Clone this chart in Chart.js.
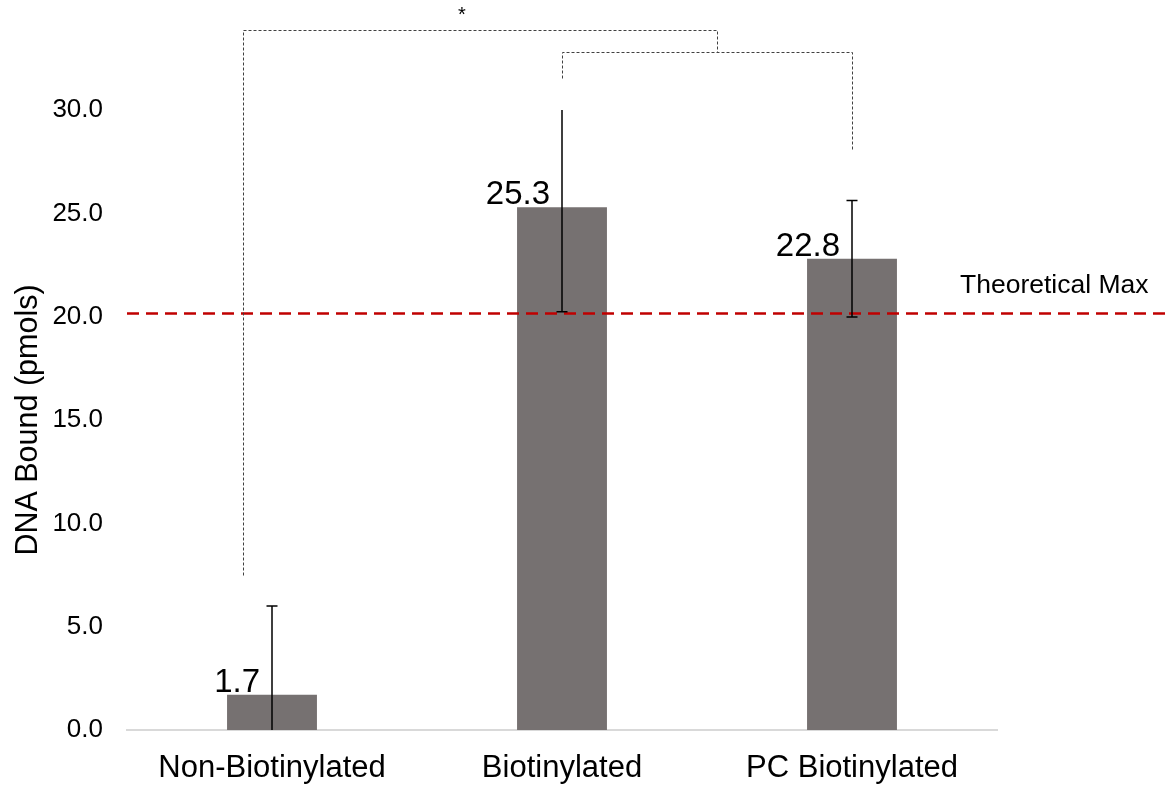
<!DOCTYPE html>
<html>
<head>
<meta charset="utf-8">
<script src="https://cdn.jsdelivr.net/npm/chart.js@4/dist/chart.umd.min.js"></script>
<style>
  html, body { margin: 0; padding: 0; background: #fff; }
  #wrap { width: 1170px; height: 789px; position: relative; }
</style>
</head>
<body>
<div id="wrap"><canvas id="dna-chart"></canvas></div>
<script>
// Data
const categories = ['Non-Biotinylated', 'Biotinylated', 'PC Biotinylated'];
const dnaBound = [1.7, 25.3, 22.8];
const dnaError = [4.3, 5.06, 2.82];
const yMin = 0;
const yMax = 30;
const yStep = 5;
const theoreticalMax = 20.15;
const theoreticalLabel = 'Theoretical Max';

// significance brackets (x in category index, y in pmols)
const bracketOuterX = [-0.1, -0.1, 1.534, 1.534];
const bracketOuterY = [7.5, 33.87, 33.87, 32.8];
const bracketInnerX = [1, 1, 2, 2];
const bracketInnerY = [31.54, 32.8, 32.8, 28.06];
const starX = 0.655;
const starY = 34.3;
const starText = '*';

const FONT = '"Liberation Sans", Arial, sans-serif';

// x pixel for a fractional category index
function catPixel(xs, v) {
    const i0 = Math.floor(v);
    const p0 = xs.getPixelForValue(i0);
    const p1 = xs.getPixelForValue(i0 + 1);
    return p0 + (p1 - p0) * (v - i0);
}

const extrasPlugin = {
    id: 'extras',
    afterDatasetsDraw(chart) {
        const ctx = chart.ctx;
        const xs = chart.scales.x;
        const ys = chart.scales.y;
        const area = chart.chartArea;
        const meta = chart.getDatasetMeta(0);

        // theoretical max line
        ctx.save();
        const ty = ys.getPixelForValue(theoreticalMax);
        ctx.strokeStyle = '#c00000';
        ctx.lineWidth = 2.5;
        ctx.setLineDash([12, 7]);
        ctx.beginPath();
        ctx.moveTo(area.left, ty);
        ctx.lineTo(chart.width, ty);
        ctx.stroke();
        ctx.setLineDash([]);
        ctx.fillStyle = '#000';
        ctx.font = '26.5px ' + FONT;
        ctx.textAlign = 'left';
        ctx.textBaseline = 'alphabetic';
        ctx.fillText(theoreticalLabel, area.right - 37, ty - 21);
        ctx.restore();

        // error bars, clipped to plot area
        ctx.save();
        ctx.beginPath();
        ctx.rect(area.left, area.top, area.right - area.left, area.bottom - area.top);
        ctx.clip();
        ctx.strokeStyle = '#000';
        ctx.lineWidth = 1.5;
        meta.data.forEach((bar, i) => {
            const x = bar.x;
            const yHi = ys.getPixelForValue(dnaBound[i] + dnaError[i]);
            const yLo = ys.getPixelForValue(dnaBound[i] - dnaError[i]);
            ctx.beginPath();
            ctx.moveTo(x, yHi);
            ctx.lineTo(x, yLo);
            ctx.moveTo(x - 5.5, yHi);
            ctx.lineTo(x + 5.5, yHi);
            ctx.moveTo(x - 5.5, yLo);
            ctx.lineTo(x + 5.5, yLo);
            ctx.stroke();
        });
        ctx.restore();

        // value labels
        ctx.save();
        ctx.fillStyle = '#000';
        ctx.font = '33px ' + FONT;
        ctx.textAlign = 'right';
        ctx.textBaseline = 'alphabetic';
        meta.data.forEach((bar, i) => {
            ctx.fillText(dnaBound[i].toFixed(1), bar.x - 12, bar.y - 3);
        });
        ctx.restore();

        // brackets + star
        ctx.save();
        ctx.strokeStyle = '#404040';
        ctx.lineWidth = 1;
        ctx.setLineDash([3, 2]);
        [[bracketOuterX, bracketOuterY], [bracketInnerX, bracketInnerY]].forEach(([bx, by]) => {
            ctx.beginPath();
            bx.forEach((v, k) => {
                const px = Math.round(catPixel(xs, v)) + 0.5;
                const py = Math.round(ys.getPixelForValue(by[k])) + 0.5;
                if (k === 0) ctx.moveTo(px, py); else ctx.lineTo(px, py);
            });
            ctx.stroke();
        });
        ctx.setLineDash([]);
        ctx.fillStyle = '#000';
        ctx.font = '20px ' + FONT;
        ctx.textAlign = 'center';
        ctx.textBaseline = 'alphabetic';
        ctx.fillText(starText, catPixel(xs, starX), ys.getPixelForValue(starY));
        ctx.restore();
    }
};

new Chart(document.getElementById('dna-chart'), {
    type: 'bar',
    data: {
        labels: categories,
        datasets: [{
            label: 'DNA Bound',
            data: dnaBound,
            backgroundColor: '#767171',
            borderWidth: 0,
            categoryPercentage: 1,
            barPercentage: 0.31
        }]
    },
    options: {
        responsive: true,
        maintainAspectRatio: false,
        animation: false,
        layout: { padding: { top: 110, right: 173, left: 0, bottom: 0 } },
        plugins: {
            legend: { display: false },
            tooltip: { enabled: false }
        },
        scales: {
            x: {
                grid: { display: false, drawTicks: false },
                border: { display: true, color: '#d9d9d9', width: 2 },
                ticks: {
                    color: '#000',
                    font: { family: FONT, size: 31 },
                    padding: 20,
                    maxRotation: 0
                },
                afterFit(scale) { scale.height = 59; }
            },
            y: {
                min: yMin,
                max: yMax,
                grid: { display: false, drawTicks: false },
                border: { display: false },
                ticks: {
                    stepSize: yStep,
                    color: '#000',
                    font: { family: FONT, size: 26 },
                    padding: 24,
                    callback: v => v.toFixed(1)
                },
                title: {
                    display: true,
                    text: 'DNA Bound (pmols)',
                    color: '#000',
                    font: { family: FONT, size: 30.5 },
                    padding: { top: 10, bottom: 0 }
                },
                afterFit(scale) { scale.width = 127; }
            }
        }
    },
    plugins: [extrasPlugin]
});
</script>
</body>
</html>
